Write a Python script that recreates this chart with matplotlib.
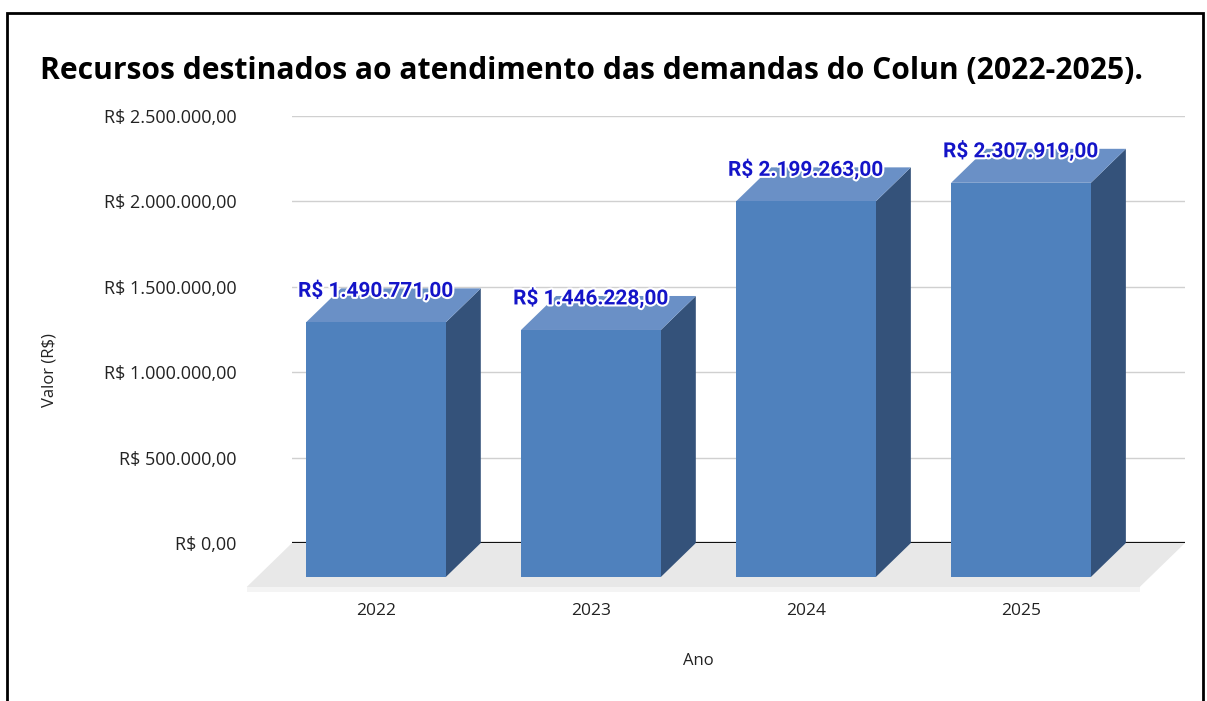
import matplotlib
matplotlib.use("Agg")
import matplotlib.pyplot as plt
from matplotlib.patches import Polygon, Rectangle
from matplotlib.transforms import ScaledTranslation
import matplotlib.patheffects as pe

# ---- data ----
categories = ["2022", "2023", "2024", "2025"]
values = [1490771, 1446228, 2199263, 2307919]
value_labels = ["R$ 1.490.771,00", "R$ 1.446.228,00", "R$ 2.199.263,00", "R$ 2.307.919,00"]
yticks = [0, 500000, 1000000, 1500000, 2000000, 2500000]
ytick_labels = ["R$ 0,00", "R$ 500.000,00", "R$ 1.000.000,00", "R$ 1.500.000,00",
                "R$ 2.000.000,00", "R$ 2.500.000,00"]
title = "Recursos destinados ao atendimento das demandas do Colun (2022-2025)."
xlabel = "Ano"
ylabel = "Valor (R$)"

# ---- style ----
W, H = 1207, 701
front_col = "#4F81BD"
side_col = "#34527A"
top_col = "#6A90C6"
bar_w = 0.65
depth_px = (35, 34)        # 3D depth offset in pixels (right, up)
floor_depth_px = 44

fig = plt.figure(figsize=(W / 100, H / 100), dpi=100)
fig.patch.set_facecolor("white")

ax = fig.add_axes([292 / W, 1 - 543 / H, (1185 - 292) / W, (543 - 116) / H])
ax.set_xlim(-0.553, 3.6)
ax.set_ylim(0, 2500000)
for s in ax.spines.values():
    s.set_visible(False)
ax.set_facecolor("none")

# data-space offset for the depth
inv = ax.transData.inverted()
p0 = ax.transData.transform((0, 0))
q = inv.transform((p0[0] - depth_px[0], p0[1] - depth_px[1]))
ddx, ddy = q[0], q[1]                      # back -> front offset (negative)
fq = inv.transform((p0[0] - depth_px[0] * floor_depth_px / depth_px[1],
                    p0[1] - floor_depth_px))
fdx, fdy = fq[0], fq[1]
sq = inv.transform((p0[0], p0[1] - 5))
strip = sq[1]

# gridlines (back plane)
ax.set_yticks(yticks)
ax.set_yticklabels(ytick_labels)
ax.yaxis.grid(True, color="#D0D0D0", lw=1, zorder=0.2)
ax.set_axisbelow(True)

xmin, xmax = ax.get_xlim()
# floor
floor = Polygon([(xmin, 0), (xmax, 0), (xmax + fdx, fdy), (xmin + fdx, fdy)],
                closed=True, facecolor="#E8E8E8", edgecolor="none", zorder=0.5, clip_on=False)
ax.add_patch(floor)
strip_p = Polygon([(xmin + fdx, fdy), (xmax + fdx, fdy), (xmax + fdx, fdy + strip),
                   (xmin + fdx, fdy + strip)],
                  closed=True, facecolor="#F4F4F4", edgecolor="none", zorder=0.5, clip_on=False)
ax.add_patch(strip_p)
ax.axhline(0, color="#111111", lw=1.6, zorder=0.8, xmin=0, xmax=1)

xs = list(range(len(categories)))
for x, v, lab in zip(xs, values, value_labels):
    xl_b, xr_b = x - bar_w / 2, x + bar_w / 2
    xl_f, xr_f = xl_b + ddx, xr_b + ddx
    # side face
    ax.add_patch(Polygon([(xr_f, ddy), (xr_f, v + ddy), (xr_b, v), (xr_b, 0)],
                         closed=True, facecolor=side_col, edgecolor="none", zorder=2, clip_on=False))
    # top face
    ax.add_patch(Polygon([(xl_f, v + ddy), (xr_f, v + ddy), (xr_b, v), (xl_b, v)],
                         closed=True, facecolor=top_col, edgecolor="none", zorder=2, clip_on=False))
    # front face
    ax.add_patch(Rectangle((xl_f, ddy), bar_w, v, facecolor=front_col, edgecolor="none",
                           zorder=3, clip_on=False))
    # value label
    ax.text(x + ddx, v, lab, ha="center", va="center", fontsize=15, fontweight="bold",
            family=["Roboto", "DejaVu Sans"], color="#1414C8", zorder=5, clip_on=False,
            transform=ax.transData + ScaledTranslation(0, -0.02, fig.dpi_scale_trans),
            path_effects=[pe.withStroke(linewidth=3, foreground="white")])

# tick labels
ax.set_xticks(xs)
ax.set_xticklabels(categories)
ax.tick_params(axis="both", length=0)
ax.tick_params(axis="y", pad=40, labelsize=13, labelcolor="#222222")
ax.tick_params(axis="x", pad=43, labelsize=12.5, labelcolor="#222222")
for t in ax.get_xticklabels():
    t.set_transform(t.get_transform() + ScaledTranslation(-depth_px[0] / 100, 0,
                                                          fig.dpi_scale_trans))
for t in ax.get_xticklabels() + ax.get_yticklabels():
    t.set_family(["Open Sans", "DejaVu Sans"])

fig.text(40 / W, 1 - 71 / H, title, ha="left", va="center", fontsize=21.6, fontweight="bold",
         family=["Open Sans", "DejaVu Sans"], color="black")
fig.text(698 / W, 1 - 661 / H, xlabel, ha="center", va="center", fontsize=12,
         family=["Open Sans", "DejaVu Sans"], color="#222222")
fig.text(50 / W, 1 - 370 / H, ylabel, ha="center", va="center", rotation=90, fontsize=12,
         family=["Open Sans", "DejaVu Sans"], color="#222222")

# outer border
fig.patches.append(Rectangle((7 / W, -0.05), (1203 - 7) / W, 1.05 - 13 / H,
                             transform=fig.transFigure, fill=False, edgecolor="black", lw=2))

fig.savefig("out.png", dpi=100)
